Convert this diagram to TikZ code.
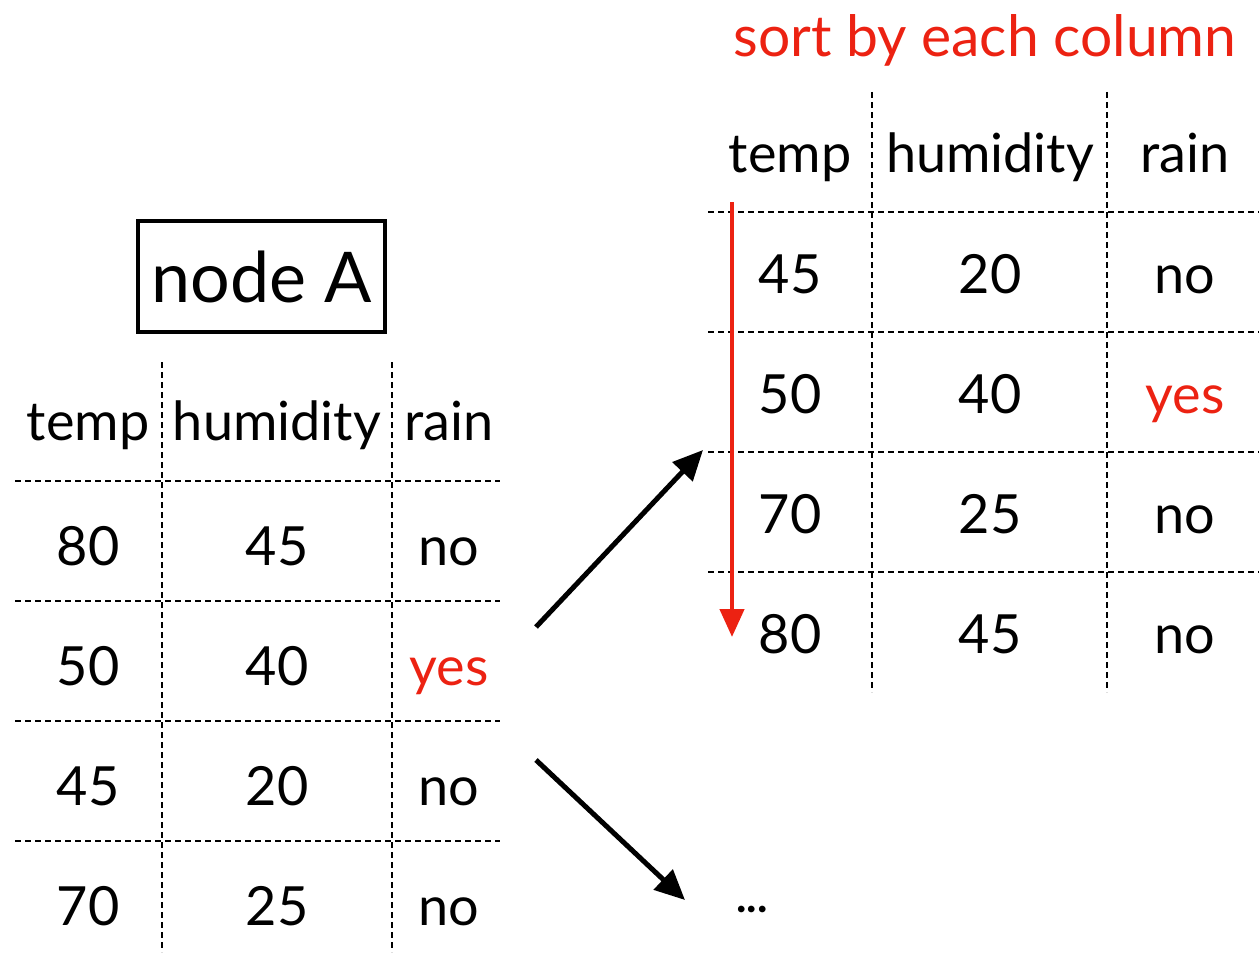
\documentclass[tikz,border=0pt]{standalone}
\usepackage{fontspec}
\setmainfont{Lato}
\usetikzlibrary{arrows.meta}
\definecolor{sortred}{RGB}{236,34,18}
\tikzset{
  cell/.style={font=\fontsize{54}{60}\selectfont, anchor=base, inner sep=0pt},
  grid/.style={line width=2.6pt, dash pattern=on 6pt off 4pt},
  bigarrow/.style={line width=5pt, -{Triangle[length=30pt,width=27pt]}}
}
\begin{document}
\begin{tikzpicture}[x=1pt, y=-1pt]
        \useasboundingbox (0,0) rectangle (1259,958);
        % node A
        \node[draw, line width=4.5pt, minimum width=247pt, minimum height=111pt, font=\fontsize{70}{76}\selectfont] (nodeA) at (261.5,276.5) {node A};
        % linke Tabelle
        \draw[grid] (162,362) -- (162,952);
        \draw[grid] (392,362) -- (392,952);
        \draw[grid] (15,481) -- (500,481);
        \draw[grid] (15,601) -- (500,601);
        \draw[grid] (15,721) -- (500,721);
        \draw[grid] (15,841) -- (500,841);
        \node[cell] (lt) at (88,440) {temp};
        \node[cell] (lh) at (277,440) {humidity};
        \node[cell] (lr) at (449,440) {rain};
        \node[cell] (lt1) at (88,565) {80};
        \node[cell] (lh1) at (277,565) {45};
        \node[cell] (lr1) at (449,565) {no};
        \node[cell] (lt2) at (88,685) {50};
        \node[cell] (lh2) at (277,685) {40};
        \node[cell, text=sortred] (lr2) at (449,685) {yes};
        \node[cell] (lt3) at (88,805) {45};
        \node[cell] (lh3) at (277,805) {20};
        \node[cell] (lr3) at (449,805) {no};
        \node[cell] (lt4) at (88,925) {70};
        \node[cell] (lh4) at (277,925) {25};
        \node[cell] (lr4) at (449,925) {no};
        % rechte Tabelle
        \node[cell, text=sortred, font=\fontsize{57}{60}\selectfont] (title) at (985,57) {sort by each column};
        \draw[grid] (872,92) -- (872,692);
        \draw[grid] (1107,92) -- (1107,692);
        \draw[grid] (708,212) -- (1259,212);
        \draw[grid] (708,332) -- (1259,332);
        \draw[grid] (708,452) -- (1259,452);
        \draw[grid] (708,572) -- (1259,572);
        \node[cell] (rt) at (790,172) {temp};
        \node[cell] (rh) at (990,172) {humidity};
        \node[cell] (rr) at (1185,172) {rain};
        \node[cell] (rt1) at (790,293) {45};
        \node[cell] (rh1) at (990,293) {20};
        \node[cell] (rr1) at (1185,293) {no};
        \node[cell] (rt2) at (790,413) {50};
        \node[cell] (rh2) at (990,413) {40};
        \node[cell, text=sortred] (rr2) at (1185,413) {yes};
        \node[cell] (rt3) at (790,533) {70};
        \node[cell] (rh3) at (990,533) {25};
        \node[cell] (rr3) at (1185,533) {no};
        \node[cell] (rt4) at (790,653) {80};
        \node[cell] (rh4) at (990,653) {45};
        \node[cell] (rr4) at (1185,653) {no};
        \node[cell, font=\bfseries\fontsize{44}{48}\selectfont] (dots) at (752,912) {...};
        % Pfeile
        \coordinate (s1) at (536,627);
        \coordinate (e1) at (703,450);
        \coordinate (s2) at (536,760);
        \coordinate (e2) at (685,900);
        \coordinate (sortTop) at (732,202);
        \coordinate (sortEnd) at (732,637);
        \draw[bigarrow] (s1) -- (e1);
        \draw[bigarrow] (s2) -- (e2);
        \draw[bigarrow, line width=4.5pt, draw=sortred, fill=sortred, -{Triangle[length=28pt,width=24pt]}] (sortTop) -- (sortEnd);
    \end{tikzpicture}
\end{document}
